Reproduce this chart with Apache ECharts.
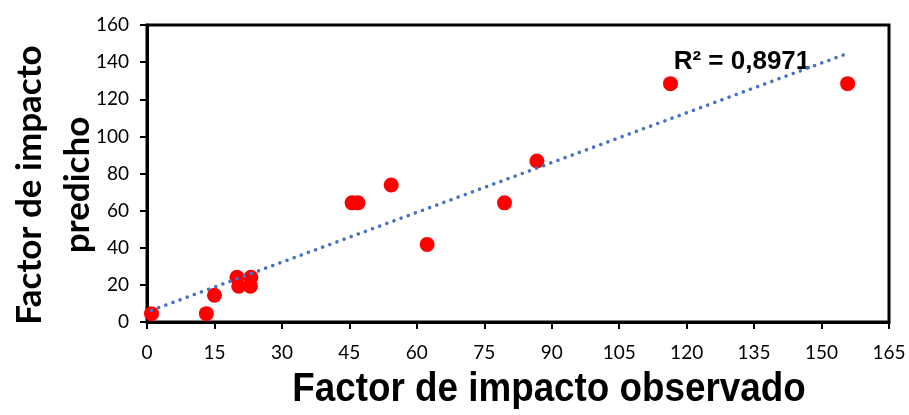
<!DOCTYPE html>
<html>
<head>
<meta charset="utf-8">
<script src="https://cdn.jsdelivr.net/npm/echarts@6/dist/echarts.min.js"></script>
<style>
  html, body { margin: 0; padding: 0; background: #fff; }
  #chart { width: 909px; height: 415px; }
</style>
</head>
<body>
<div id="chart"></div>
<script>
// observed vs predicted impact factor
const observed = [1, 13.2, 15, 20, 20.4, 23.1, 23, 45.6, 46.9, 54.3, 62.3, 79.5, 86.7, 116.4, 155.8];
const predicted = [4.5, 4.5, 14.4, 24.1, 19.3, 24.1, 19.3, 64.2, 64.2, 73.8, 41.8, 64.2, 86.7, 128.4, 128.4];

// linear trendline endpoints as drawn
const trendX = [1, 155];
const trendY = [6.3, 144];
const rSquared = "R² = 0,8971";

const chart = echarts.init(document.getElementById("chart"));

const labelFont = "Lato, 'Open Sans', sans-serif";

chart.setOption({
  animation: false,
  grid: {
    left: 147,
    right: 20,
    top: 25,
    bottom: 93,
    show: true,
    borderColor: "#000",
    borderWidth: 3,
  },
  xAxis: {
    type: "value",
    min: 0,
    max: 165,
    interval: 15,
    splitLine: { show: false },
    axisLine: { lineStyle: { color: "#000", width: 3 } },
    axisTick: { length: 7, lineStyle: { color: "#000", width: 2 } },
    axisLabel: { color: "#000", fontSize: 19, fontFamily: labelFont, margin: 21 },
  },
  yAxis: {
    type: "value",
    min: 0,
    max: 160,
    interval: 20,
    splitLine: { show: false },
    axisLine: { show: true, lineStyle: { color: "#000", width: 3 } },
    axisTick: { show: true, length: 7, lineStyle: { color: "#000", width: 2 } },
    axisLabel: { color: "#000", fontSize: 19, fontFamily: labelFont, margin: 18 },
  },
  series: [
    {
      type: "line",
      data: trendX.map((x, i) => [x, trendY[i]]),
      symbol: "none",
      z: 3,
      lineStyle: { color: "#4472C4", width: 3.5, type: [0.1, 7.5], cap: "round" },
    },
    {
      type: "scatter",
      data: observed.map((x, i) => [x, predicted[i]]),
      symbolSize: 15,
      z: 2,
      itemStyle: { color: "#FF0000", opacity: 1 },
    },
  ],
  graphic: [
    {
      type: "text",
      x: 549,
      y: 390,
      scaleX: 0.92,
      style: {
        text: "Factor de impacto observado",
        align: "center",
        verticalAlign: "middle",
        font: "bold 40px 'Liberation Sans', Arial, sans-serif",
        fill: "#000",
      },
    },
    {
      type: "text",
      x: 54,
      y: 185,
      rotation: Math.PI / 2,
      style: {
        text: "Factor de impacto\npredicho",
        align: "center",
        verticalAlign: "middle",
        lineHeight: 48,
        font: "bold 35px Lato, 'Open Sans', sans-serif",
        fill: "#000",
      },
    },
    {
      type: "text",
      x: 742,
      y: 62,
      style: {
        text: rSquared,
        align: "center",
        verticalAlign: "middle",
        font: "bold 26px 'Liberation Sans', Arial, sans-serif",
        fill: "#000",
      },
    },
  ],
});
</script>
</body>
</html>
